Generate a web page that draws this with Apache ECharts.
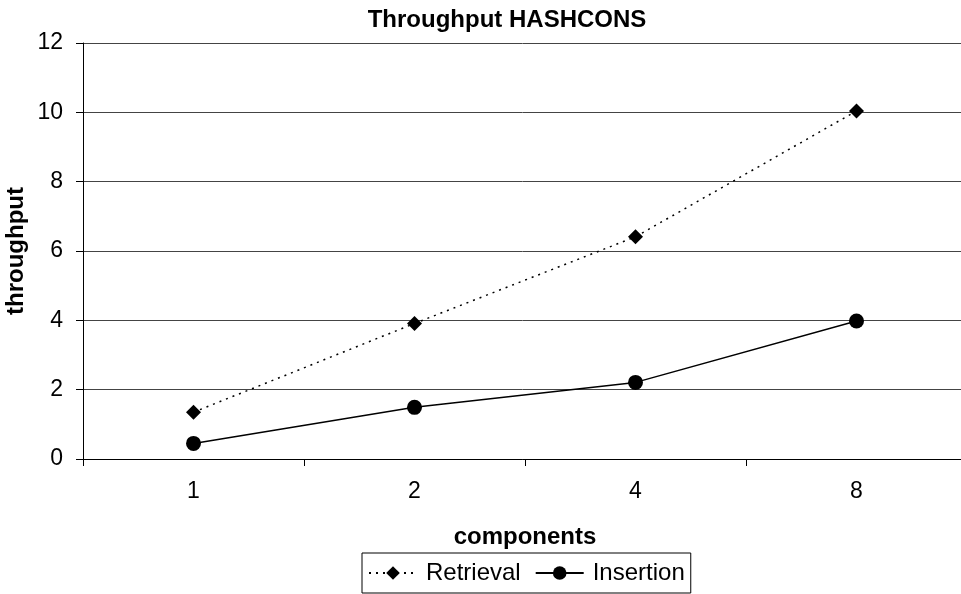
<!DOCTYPE html>
<html>
<head>
<meta charset="utf-8">
<script src="https://cdn.jsdelivr.net/npm/echarts@6/dist/echarts.min.js"></script>
<style>
  html, body { margin: 0; padding: 0; background: #fff; }
  #main { width: 961px; height: 594px; }
</style>
</head>
<body>
<div id="main"></div>
<script>
// data
let categories = ['1', '2', '4', '8'];
let retrieval = [1.35, 3.91, 6.41, 10.04];
let insertion = [0.45, 1.49, 2.21, 3.98];

let font = 'Liberation Sans, Arial, sans-serif';

let chart = echarts.init(document.getElementById('main'));

let option = {
	animation: false,
	backgroundColor: '#fff',
	title: {
		text: 'Throughput HASHCONS',
		left: 507,
		textAlign: 'center',
		top: 8,
		padding: 0,
		textStyle: { fontFamily: font, fontSize: 24, fontWeight: 'bold', color: '#000' }
	},
	legend: {
		left: 362,
		top: 553,
		padding: [8, 6],
		itemGap: 14,
		itemWidth: 48,
		itemHeight: 17,
		borderColor: '#000',
		borderWidth: 1,
		textStyle: { fontFamily: font, fontSize: 24, color: '#000', padding: [0, 0, 0, 4] },
		data: ['Retrieval', 'Insertion']
	},
	grid: {
		left: 83,
		right: -6,
		top: 43,
		bottom: 135,
		outerBoundsMode: 'none'
	},
	xAxis: {
		type: 'category',
		data: categories,
		boundaryGap: true,
		name: 'components',
		nameLocation: 'middle',
		nameGap: 66,
		nameTextStyle: { fontFamily: font, fontSize: 24, fontWeight: 'bold', color: '#000' },
		axisLine: { lineStyle: { color: '#000', width: 1 } },
		axisTick: { show: true, length: 7, alignWithLabel: false, lineStyle: { color: '#000' } },
		axisLabel: { fontFamily: font, fontSize: 23, color: '#000', margin: 21 },
		splitLine: { show: false }
	},
	yAxis: {
		type: 'value',
		min: 0,
		max: 12,
		interval: 2,
		name: 'throughput',
		nameLocation: 'middle',
		nameGap: 55,
		nameMoveOverlap: false,
		nameTextStyle: { fontFamily: font, fontSize: 24, fontWeight: 'bold', color: '#000' },
		axisLine: { show: true, lineStyle: { color: '#000', width: 1 } },
		axisTick: { show: true, length: 7, lineStyle: { color: '#000' } },
		axisLabel: { fontFamily: font, fontSize: 23, color: '#000', margin: 20 },
		splitLine: { show: true, lineStyle: { color: '#444', width: 1 } }
	},
	series: [
		{
			name: 'Retrieval',
			type: 'line',
			data: retrieval,
			symbol: 'diamond',
			symbolSize: 15,
			itemStyle: { color: '#000' },
			lineStyle: { color: '#000', width: 1.5, type: [2, 5] }
		},
		{
			name: 'Insertion',
			type: 'line',
			data: insertion,
			symbol: 'circle',
			symbolSize: 15,
			itemStyle: { color: '#000' },
			lineStyle: { color: '#000', width: 1.5, type: 'solid' }
		}
	]
};

chart.setOption(option);
</script>
</body>
</html>
